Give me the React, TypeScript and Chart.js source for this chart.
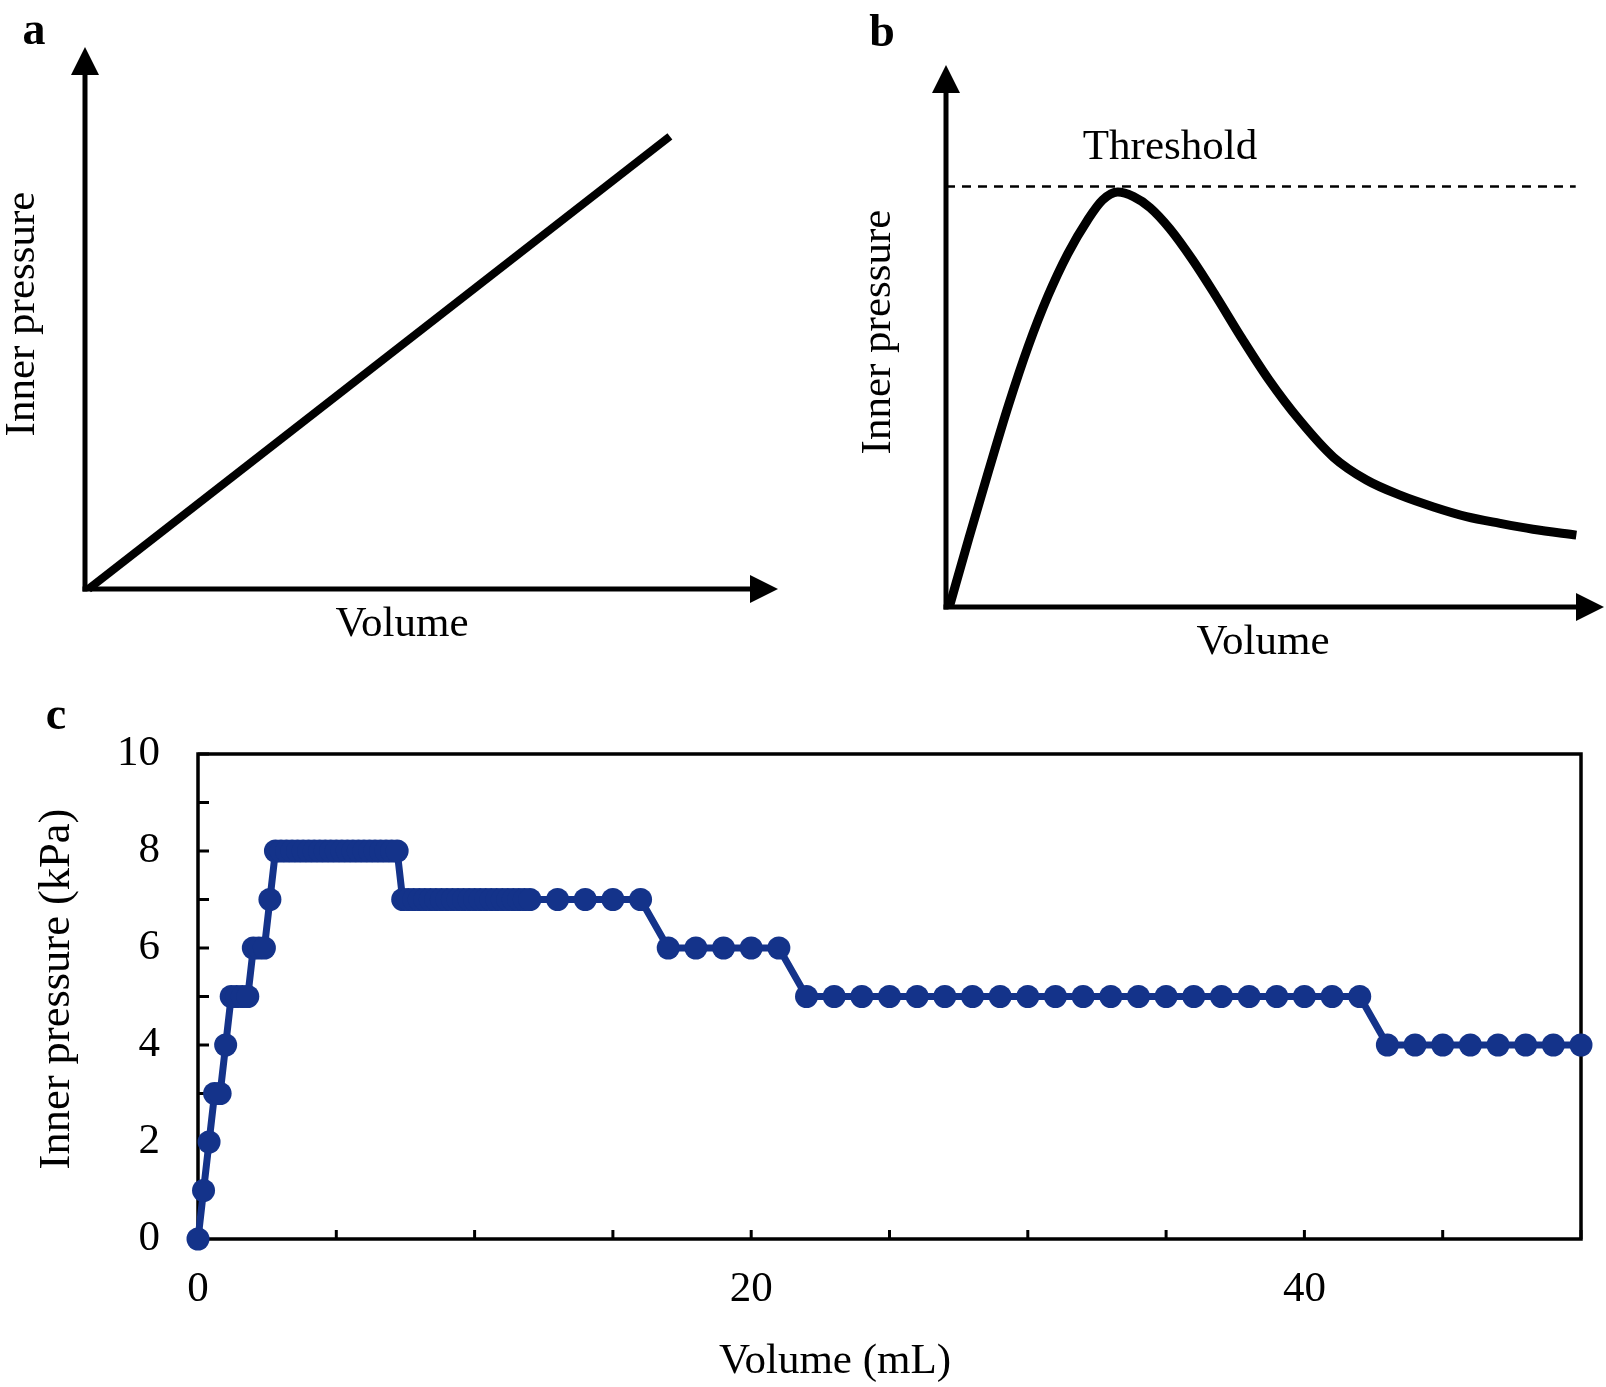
import { useEffect, useRef } from 'react';
import { Chart, registerables } from 'chart.js';

Chart.register(...registerables);

const FONT = '"Liberation Serif", "Times New Roman", Times, serif';
const BLUE = '#14338a';
const TEXT_SIZE = 43;

// ---------- Panel a: linear schematic ----------
const aVolume = [0.05, 8.44];
const aPressure = [0, 8.35];

// ---------- Panel b: schematic with threshold ----------
const bVolume = [0.05, 0.35, 0.65, 0.95, 1.25, 1.55, 1.85, 2.15, 2.38, 2.61, 2.85, 3.1, 3.4, 3.75, 4.1, 4.5, 4.9, 5.38, 5.89, 6.39, 6.9, 7.41, 7.91, 8.42, 8.92, 9.58];
const bPressure = [0, 1.65, 3.25, 4.8, 6.2, 7.4, 8.4, 9.2, 9.68, 9.87, 9.76, 9.5, 9.0, 8.25, 7.4, 6.38, 5.42, 4.43, 3.56, 3.02, 2.66, 2.38, 2.15, 1.99, 1.85, 1.71];
const bThresholdVolume = [0, 9.57];
const bThresholdPressure = [10, 10];

// ---------- Panel c: measured inner pressure ----------
const cVolume = [
  0, 0.2, 0.4, 0.6, 0.8, 1, 1.2, 1.4, 1.6, 1.8, 2, 2.2, 2.4, 2.6,
  2.8, 3, 3.2, 3.4, 3.6, 3.8, 4, 4.2, 4.4, 4.6, 4.8, 5, 5.2, 5.4, 5.6, 5.8, 6, 6.2, 6.4, 6.6, 6.8, 7, 7.2,
  7.4, 7.6, 7.8, 8, 8.2, 8.4, 8.6, 8.8, 9, 9.2, 9.4, 9.6, 9.8, 10, 10.2, 10.4, 10.6, 10.8, 11, 11.2, 11.4, 11.6, 11.8, 12,
  13, 14, 15, 16,
  17, 18, 19, 20, 21,
  22, 23, 24, 25, 26, 27, 28, 29, 30, 31, 32, 33, 34, 35, 36, 37, 38, 39, 40, 41, 42,
  43, 44, 45, 46, 47, 48, 49, 50,
];
const cPressure = [
  0, 1, 2, 3, 3, 4, 5, 5, 5, 5, 6, 6, 6, 7,
  8, 8, 8, 8, 8, 8, 8, 8, 8, 8, 8, 8, 8, 8, 8, 8, 8, 8, 8, 8, 8, 8, 8,
  7, 7, 7, 7, 7, 7, 7, 7, 7, 7, 7, 7, 7, 7, 7, 7, 7, 7, 7, 7, 7, 7, 7, 7,
  7, 7, 7, 7,
  6, 6, 6, 6, 6,
  5, 5, 5, 5, 5, 5, 5, 5, 5, 5, 5, 5, 5, 5, 5, 5, 5, 5, 5, 5, 5,
  4, 4, 4, 4, 4, 4, 4, 4,
];
const cXTickLabels = [0, 20, 40];
const cYTickLabels = [0, 2, 4, 6, 8, 10];

const pts = (xs: number[], ys: number[]) => xs.map((x, i) => ({ x, y: ys[i] }));

function drawArrowAxes(chart: any) {
  const { ctx, chartArea } = chart;
  const { left, right, top, bottom } = chartArea;
  const head = 28;
  const half = 14;
  ctx.save();
  ctx.strokeStyle = '#000';
  ctx.fillStyle = '#000';
  ctx.lineWidth = 5;
  ctx.lineCap = 'butt';
  ctx.beginPath();
  ctx.moveTo(left, bottom + 2.5);
  ctx.lineTo(left, top + head - 1);
  ctx.stroke();
  ctx.beginPath();
  ctx.moveTo(left - 2.5, bottom);
  ctx.lineTo(right - head + 1, bottom);
  ctx.stroke();
  ctx.beginPath();
  ctx.moveTo(left, top);
  ctx.lineTo(left - half, top + head);
  ctx.lineTo(left + half, top + head);
  ctx.closePath();
  ctx.fill();
  ctx.beginPath();
  ctx.moveTo(right, bottom);
  ctx.lineTo(right - head, bottom - half);
  ctx.lineTo(right - head, bottom + half);
  ctx.closePath();
  ctx.fill();
  ctx.restore();
}

function text(ctx: CanvasRenderingContext2D, s: string, x: number, y: number, opts: { bold?: boolean; size?: number; rotate?: boolean; baseline?: CanvasTextBaseline } = {}) {
  ctx.save();
  ctx.fillStyle = '#000';
  ctx.font = `${opts.bold ? 'bold ' : ''}${opts.size ?? TEXT_SIZE}px ${FONT}`;
  ctx.textAlign = 'center';
  ctx.textBaseline = opts.baseline ?? 'middle';
  ctx.translate(x, y);
  if (opts.rotate) ctx.rotate(-Math.PI / 2);
  ctx.fillText(s, 0, 0);
  ctx.restore();
}

export default function App() {
  const aRef = useRef<HTMLCanvasElement>(null);
  const bRef = useRef<HTMLCanvasElement>(null);
  const cRef = useRef<HTMLCanvasElement>(null);

  useEffect(() => {
    const chartA = new Chart(aRef.current!, {
      type: 'line',
      data: {
        datasets: [
          {
            data: pts(aVolume, aPressure),
            borderColor: '#000',
            borderWidth: 8,
            borderCapStyle: 'butt',
            pointRadius: 0,
            clip: false as any,
          },
        ],
      },
      options: {
        responsive: false,
        animation: false,
        devicePixelRatio: 1,
        layout: { padding: { left: 85, top: 47, right: 62, bottom: 91 } },
        plugins: { legend: { display: false }, tooltip: { enabled: false } },
        scales: {
          x: { type: 'linear', display: false, min: 0, max: 10 },
          y: { type: 'linear', display: false, min: 0, max: 10 },
        },
      },
      plugins: [
        {
          id: 'axesA',
          beforeDatasetsDraw: (chart: any) => drawArrowAxes(chart),
          afterDraw: (chart: any) => {
            const ctx = chart.ctx;
            text(ctx, 'a', 34, 44, { bold: true, size: 46, baseline: 'alphabetic' });
            text(ctx, 'Inner pressure', 23, 314, { rotate: true });
            text(ctx, 'Volume', 402, 625);
          },
        },
      ],
    });

    const chartB = new Chart(bRef.current!, {
      type: 'line',
      data: {
        datasets: [
          {
            data: pts(bThresholdVolume, bThresholdPressure),
            borderColor: '#000',
            borderWidth: 2.5,
            borderDash: [9, 7],
            pointRadius: 0,
            clip: false as any,
          },
          {
            data: pts(bVolume, bPressure),
            borderColor: '#000',
            borderWidth: 9,
            borderCapStyle: 'butt',
            borderJoinStyle: 'round',
            cubicInterpolationMode: 'monotone',
            pointRadius: 0,
            clip: false as any,
          },
        ],
      },
      options: {
        responsive: false,
        animation: false,
        devicePixelRatio: 1,
        layout: { padding: { left: 106, top: 65, right: 2, bottom: 73 } },
        plugins: { legend: { display: false }, tooltip: { enabled: false } },
        scales: {
          x: { type: 'linear', display: false, min: 0, max: 10 },
          y: { type: 'linear', display: false, min: 0, max: 12.89 },
        },
      },
      plugins: [
        {
          id: 'axesB',
          beforeDatasetsDraw: (chart: any) => drawArrowAxes(chart),
          afterDraw: (chart: any) => {
            const ctx = chart.ctx;
            text(ctx, 'b', 42, 46, { bold: true, size: 46, baseline: 'alphabetic' });
            text(ctx, 'Inner pressure', 39, 332, { rotate: true });
            text(ctx, 'Threshold', 330, 148);
            text(ctx, 'Volume', 423, 643);
          },
        },
      ],
    });

    const chartC = new Chart(cRef.current!, {
      type: 'line',
      data: {
        datasets: [
          {
            data: pts(cVolume, cPressure),
            borderColor: BLUE,
            backgroundColor: BLUE,
            borderWidth: 7,
            pointRadius: 11.5,
            pointBorderWidth: 0,
            pointBackgroundColor: BLUE,
            clip: false as any,
          },
        ],
      },
      options: {
        responsive: false,
        animation: false,
        devicePixelRatio: 1,
        layout: { padding: { left: 0, top: 74, right: 18, bottom: 48 } },
        plugins: { legend: { display: false }, tooltip: { enabled: false } },
        scales: {
          x: {
            type: 'linear',
            min: 0,
            max: 50,
            grid: { display: false, drawTicks: false },
            border: { display: false },
            ticks: {
              stepSize: 5,
              autoSkip: false,
              maxRotation: 0,
              padding: 25,
              color: '#000',
              font: { family: FONT, size: TEXT_SIZE },
              callback: (v: any) => (cXTickLabels.includes(Number(v)) ? String(v) : ''),
            },
            afterFit: (s: any) => {
              s.height = 100;
            },
          },
          y: {
            type: 'linear',
            min: 0,
            max: 10,
            grid: { display: false, drawTicks: false },
            border: { display: false },
            ticks: {
              stepSize: 1,
              autoSkip: false,
              padding: 38,
              color: '#000',
              font: { family: FONT, size: TEXT_SIZE },
              callback: (v: any) => (cYTickLabels.includes(Number(v)) ? String(v) : ''),
            },
            afterFit: (s: any) => {
              s.width = 198;
            },
          },
        },
      },
      plugins: [
        {
          id: 'frameC',
          beforeDatasetsDraw: (chart: any) => {
            const { ctx, chartArea, scales } = chart;
            const { left, right, top, bottom } = chartArea;
            ctx.save();
            ctx.strokeStyle = '#000';
            ctx.lineWidth = 3.5;
            ctx.strokeRect(left, top, right - left, bottom - top);
            ctx.lineWidth = 3;
            scales.y.ticks.forEach((t: any) => {
              const py = scales.y.getPixelForValue(t.value);
              ctx.beginPath();
              ctx.moveTo(left, py);
              ctx.lineTo(left + 11, py);
              ctx.stroke();
            });
            scales.x.ticks.forEach((t: any) => {
              const px = scales.x.getPixelForValue(t.value);
              ctx.beginPath();
              ctx.moveTo(px, bottom);
              ctx.lineTo(px, bottom - 9);
              ctx.stroke();
            });
            ctx.restore();
          },
          afterDraw: (chart: any) => {
            const ctx = chart.ctx;
            text(ctx, 'c', 56, 49, { bold: true, size: 46, baseline: 'alphabetic' });
            text(ctx, 'Inner pressure (kPa)', 57, 309, { rotate: true, size: 44.5 });
            text(ctx, 'Volume (mL)', 835, 682);
          },
        },
      ],
    });

    return () => {
      chartA.destroy();
      chartB.destroy();
      chartC.destroy();
    };
  }, []);

  return (
    <div style={{ position: 'absolute', left: 0, top: 0, width: 1606, height: 1387, background: '#fff' }}>
      <canvas ref={aRef} width={840} height={680} style={{ position: 'absolute', left: 0, top: 0 }} />
      <canvas ref={bRef} width={766} height={680} style={{ position: 'absolute', left: 840, top: 0 }} />
      <canvas ref={cRef} width={1606} height={707} style={{ position: 'absolute', left: 0, top: 680 }} />
    </div>
  );
}
